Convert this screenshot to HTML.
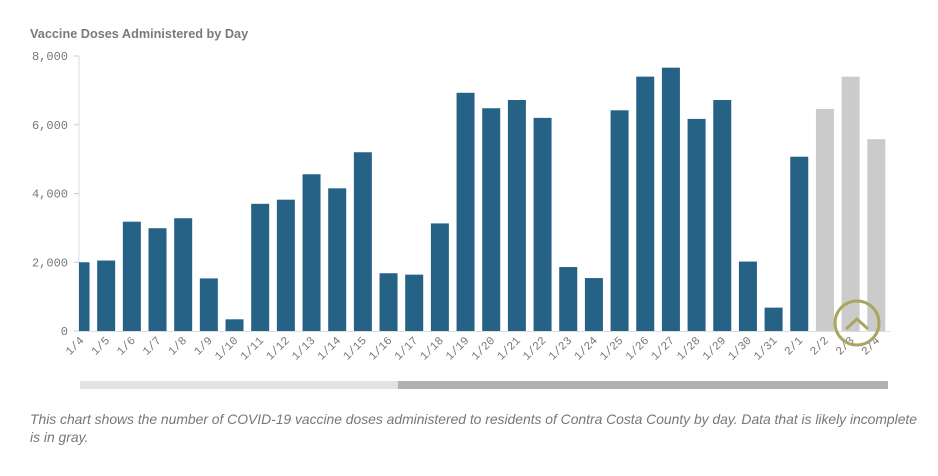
<!DOCTYPE html>
<html><head><meta charset="utf-8"><style>
body{margin:0;background:#fff;width:938px;height:471px;overflow:hidden;font-family:"Liberation Sans",sans-serif}
</style></head><body>
<svg id="c" width="938" height="471">
<text x="30" y="38" font-size="12.7" font-weight="bold" fill="#7a7a7a">Vaccine Doses Administered by Day</text>
<defs><clipPath id="pc"><rect x="79" y="40" width="812" height="300"/></clipPath></defs>
<g id="grid"></g>
<g id="bars" clip-path="url(#pc)"></g>
<g id="xl"></g>
<rect x="80" y="381" width="318" height="8" fill="#e3e3e3"/>
<rect x="398" y="381" width="490" height="8" fill="#b0b0ae"/>
<g>
<circle cx="857" cy="323" r="22" fill="none" stroke="#a8a660" stroke-width="3"/>
<polyline points="846,329 857,319 868,329" fill="none" stroke="#a8a660" stroke-width="3"/>
</g>
<text x="30" y="424" font-size="13.9" font-style="italic" fill="#777" textLength="887">This chart shows the number of COVID-19 vaccine doses administered to residents of Contra Costa County by day. Data that is likely incomplete</text>
<text x="30" y="442" font-size="13.9" font-style="italic" fill="#777">is in gray.</text>
</svg>
<script>
const categories=["1/4","1/5","1/6","1/7","1/8","1/9","1/10","1/11","1/12","1/13","1/14","1/15","1/16","1/17","1/18","1/19","1/20","1/21","1/22","1/23","1/24","1/25","1/26","1/27","1/28","1/29","1/30","1/31","2/1","2/2","2/3","2/4"];
const doses=[2000,2050,3180,2990,3280,1530,340,3700,3820,4560,4150,5200,1680,1640,3130,6930,6480,6720,6200,1860,1540,6420,7400,7660,6170,6720,2020,680,5070,6460,7400,5580];
const incomplete=[false,false,false,false,false,false,false,false,false,false,false,false,false,false,false,false,false,false,false,false,false,false,false,false,false,false,false,false,false,true,true,true];
const yTicks=[0,2000,4000,6000,8000];
const NS="http://www.w3.org/2000/svg";
const y=v=>331-v/8000*275;
const x=i=>80.5+i*25.67;
const g=document.getElementById('grid'),b=document.getElementById('bars'),xl=document.getElementById('xl');
function mk(t,a,p){const e=document.createElementNS(NS,t);for(const k in a)e.setAttribute(k,a[k]);p.appendChild(e);return e;}
const ax=mk('line',{x1:79,y1:56,x2:79,y2:331,stroke:'#ddd'},g);


const bx=mk('line',{x1:79,y1:331.5,x2:890,y2:331.5,stroke:'#ddd'},g);


yTicks.forEach(v=>{
  const tk=mk('line',{x1:74,y1:y(v),x2:79,y2:y(v),stroke:'#ccc'},g);
  
  
  const t=mk('text',{x:68,y:y(v)+4,'text-anchor':'end','font-size':12,fill:'#777','font-family':'Liberation Mono, monospace'},g);
  t.textContent=v.toLocaleString('en-US');
  
  
});
categories.forEach((c,i)=>{
  const r=mk('rect',{x:x(i)-9,y:y(doses[i]),width:18,height:331-y(doses[i]),fill:incomplete[i]?'#cbcbcb':'#266186'},b);
  
  
  const t=mk('text',{x:x(i)+4,y:341,'text-anchor':'end','font-size':11.5,fill:'#777','font-family':'Liberation Mono, monospace',transform:`rotate(-45 ${x(i)+4} 341)`},xl);
  t.textContent=c;
  
  
});
</script>
</body></html>
